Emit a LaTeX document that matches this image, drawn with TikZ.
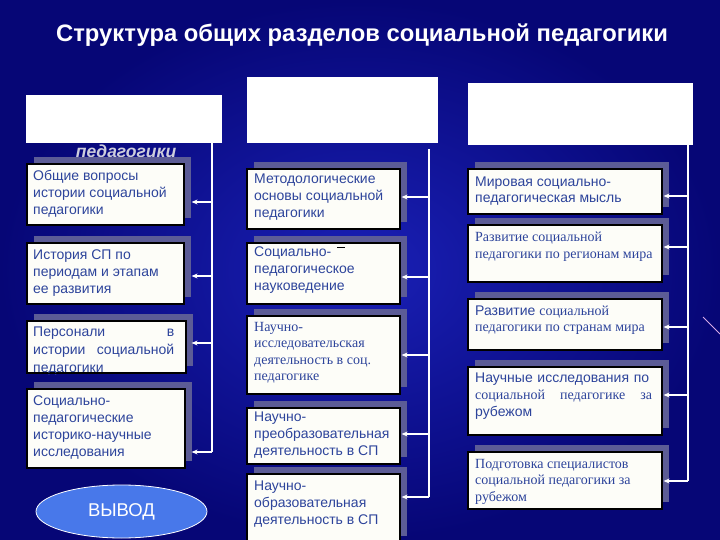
\documentclass[tikz,border=0pt]{standalone}
\usepackage{fontspec}
\setmainfont{Liberation Sans}
\newfontfamily\tms{Liberation Serif}
\usetikzlibrary{shadows,arrows.meta,shapes.geometric}
\definecolor{txtc}{RGB}{45,68,155}
\definecolor{boxc}{RGB}{253,253,248}
\definecolor{shc}{RGB}{92,92,150}
\definecolor{bgin}{RGB}{26,32,182}
\definecolor{bgout}{RGB}{6,6,118}
\definecolor{ellc}{RGB}{72,120,234}
\definecolor{decoc}{RGB}{215,170,230}
\begin{document}
\begin{tikzpicture}[x=1pt,y=-1pt,
  box/.style={draw=black, line width=1.6pt, fill=boxc, inner sep=0pt, anchor=north west,
    drop shadow={shadow xshift=7pt, shadow yshift=7pt, fill=shc, opacity=1}},
  hdr/.style={fill=white, draw=none, inner sep=0pt, anchor=north west},
  txa/.style={anchor=north west, inner sep=0pt, text=txtc, align=left, font=\fontsize{14}{17}\selectfont},
  txt/.style={anchor=north west, inner sep=0pt, text=txtc, align=left, font=\tms\fontsize{14}{16.5}\selectfont},
  arr/.style={draw=white, line width=1.2pt, -{Stealth[length=6pt,width=5pt]}},
  vline/.style={draw=white, line width=1.2pt}]
\useasboundingbox (0,0) rectangle (720,540);
\shade[inner color=bgin, outer color=bgout] (0,0) rectangle (720,540);
\draw[decoc, line width=1pt] (703,317) -- (720,334);

% title
\node[anchor=base, text=white, inner sep=0pt, font=\bfseries\fontsize{23.8}{28}\selectfont] (title) at (362,42) {Структура общих разделов социальной педагогики};

% headers
\node[anchor=base, inner sep=0pt, text={rgb,255:red,205;green,205;blue,220}, font=\bfseries\itshape\fontsize{17.5}{20}\selectfont] (ped) at (126,158) {педагогики};
\node[hdr, minimum width=196pt, minimum height=48pt] (hL) at (26,95) {};
\node[hdr, minimum width=191pt, minimum height=66pt] (hM) at (247,77) {};
\node[hdr, minimum width=225pt, minimum height=62pt] (hR) at (468,83) {};

% left column
\node[box, minimum width=157pt, minimum height=61pt] (L1) at (26,163) {};
\node[txa] (L1t) at (33,170.5) {Общие вопросы\\истории социальной\\педагогики};
\node[box, minimum width=157pt, minimum height=61pt] (L2) at (26,242) {};
\node[txa] (L2t) at (33,249.5) {История СП по\\периодам и этапам\\ее развития};
\node[box, minimum width=159pt, minimum height=52pt] (L3) at (26,320) {};
\node[txa, text width=141pt, font=\fontsize{14}{18}\selectfont] (L3t) at (33,327) {Персонали\hfill в\\истории\hfill социальной\\педагогики};
\draw[black, line width=1.6pt] (L3.south west) -- (L3.south east);
\node[box, minimum width=158pt, minimum height=79pt] (L4) at (26,388) {};
\node[txa] (L4t) at (33,395.5) {Социально-\\педагогические\\историко-научные\\исследования};
\node[ellipse, draw=white, line width=0.8pt, fill=ellc, minimum width=171pt, minimum height=53pt, inner sep=0pt, text=white, font=\fontsize{18.5}{21}\selectfont] (vyv) at (121.5,511.5) {ВЫВОД};

% middle column
\node[box, minimum width=153pt, minimum height=60pt] (M1) at (246,168) {};
\node[txa] (M1t) at (254,173.5) {Методологические\\основы социальной\\педагогики};
\node[box, minimum width=153pt, minimum height=61pt] (M2) at (246,242) {};
\node[txa] (M2t) at (254,246.5) {Социально-\\педагогическое\\науковедение};
\draw[black, line width=1pt] (337,247) -- (345,247);
\node[box, minimum width=153pt, minimum height=78pt] (M3) at (246,315) {};
\node[txt] (M3t) at (254,322) {Научно-\\исследовательская\\деятельность в соц.\\педагогике};
\node[box, minimum width=153pt, minimum height=56pt] (M4) at (246,407) {};
\node[txa] (M4t) at (254,411.5) {Научно-\\преобразовательная\\деятельность в СП};
\node[box, minimum width=153pt, minimum height=69pt] (M5) at (246,473) {};
\node[txa] (M5t) at (254,480.5) {Научно-\\образовательная\\деятельность в СП};

% right column
\node[box, minimum width=194pt, minimum height=45pt] (R1) at (467,168) {};
\node[txa, font=\fontsize{14}{16}\selectfont] (R1t) at (475,176.5) {Мировая социально-\\педагогическая мысль};
\node[box, minimum width=194pt, minimum height=57pt] (R2) at (467,224) {};
\node[txt] (R2t) at (475,232) {Развитие социальной\\педагогики по регионам мира};
\node[box, minimum width=194pt, minimum height=51pt] (R3) at (467,298) {};
\node[txa, font=\fontsize{14}{16.5}\selectfont] (R3t) at (475,305.5) {Развитие {\tms социальной}\\{\tms педагогики по странам мира}};
\node[box, minimum width=194pt, minimum height=68pt] (R4) at (467,366) {};
\node[txa, text width=177pt] (R4t) at (475,372.5) {Научные исследования по\\{\tms социальной\hfill педагогике\hfill за}\\рубежом};
\node[box, minimum width=194pt, minimum height=57pt] (R5) at (467,451) {};
\node[txt] (R5t) at (475,459) {Подготовка специалистов\\социальной педагогики за\\рубежом};

% connector coordinates
\coordinate (la1) at (212,202);
\coordinate (la2) at (212,276);
\coordinate (la3) at (212,343);
\coordinate (la4) at (212,452);
\coordinate (ma0) at (429,149);
\coordinate (ma1) at (429,197);
\coordinate (ma2) at (429,277);
\coordinate (ma3) at (429,355);
\coordinate (ma4) at (429,434);
\coordinate (ma5) at (429,497);
\coordinate (ra1) at (688,196);
\coordinate (ra2) at (688,247);
\coordinate (ra3) at (688,327);
\coordinate (ra4) at (688,395);
\coordinate (ra5) at (688,481);

\draw[vline] (hL.south -| la1) -- (la4);
\draw[vline] (ma0) -- (ma5);
\draw[vline] (hR.south -| ra1) -- (ra5);

\draw[arr] (la1) -- ([xshift=7pt]la1 -| L1.east);
\draw[arr] (la2) -- ([xshift=7pt]la2 -| L2.east);
\draw[arr] (la3) -- ([xshift=5pt]la3 -| L3.east);
\draw[arr] (la4) -- ([xshift=6pt]la4 -| L4.east);
\draw[arr] (ma1) -- ([xshift=1pt]ma1 -| M1.east);
\draw[arr] (ma2) -- ([xshift=1pt]ma2 -| M2.east);
\draw[arr] (ma3) -- ([xshift=1pt]ma3 -| M3.east);
\draw[arr] (ma4) -- ([xshift=1pt]ma4 -| M4.east);
\draw[arr] (ma5) -- ([xshift=1pt]ma5 -| M5.east);
\draw[arr] (ra1) -- ([xshift=1pt]ra1 -| R1.east);
\draw[arr] (ra2) -- ([xshift=1pt]ra2 -| R2.east);
\draw[arr] (ra3) -- ([xshift=1pt]ra3 -| R3.east);
\draw[arr] (ra4) -- ([xshift=1pt]ra4 -| R4.east);
\draw[arr] (ra5) -- ([xshift=1pt]ra5 -| R5.east);
\end{tikzpicture}
\end{document}
